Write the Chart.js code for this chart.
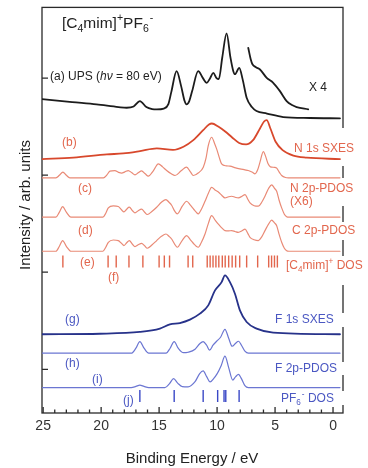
<!DOCTYPE html>
<html><head><meta charset="utf-8">
<script src="https://cdn.jsdelivr.net/npm/chart.js@4/dist/chart.umd.min.js"></script>
<style>html,body{margin:0;padding:0;background:#fff;}canvas{display:block;}</style>
</head><body>
<canvas id="c" width="368" height="468"></canvas>
<script>
// ---------- data (binding energy in eV, intensity in arb. units) ----------
const xTicks = [0, 5, 10, 15, 20, 25];
const yMarks = [43.7, 141.3, 238.7, 336];

// (a) UPS
const upsOffset = 295;
const upsE = [25.1, 22.5, 20.4, 18.5, 17.8, 17.2, 16.66, 16.1, 15.6, 15.2, 14.6, 14.2, 13.95, 13.49, 13.1, 12.8, 12.63, 12.4, 12.15, 11.63, 11.22, 10.9, 10.6, 10.33, 10.05, 9.85, 9.55, 9.18, 8.85, 8.6, 8.46, 8.09, 7.8, 7.45, 7.0, 6.6, 5.7, 4.3, 2.0, -0.6];
const upsI = [20, 17, 14.7, 12, 11.3, 12.5, 18, 12, 10, 9.7, 10.5, 15, 27, 48, 33, 18, 14.7, 18, 28, 48, 41, 36.3, 41, 46.3, 41, 40, 62, 86, 62, 48, 45, 51.3, 40, 21.3, 12, 8, 5.5, 2, 1, 0.7];
// UPS x4
const upsX4E = [7.31, 7.1, 6.95, 6.65, 6.3, 5.72, 5.16, 4.58, 4.0, 3.54, 3.14, 2.14];
const upsX4I = [71.3, 60, 55, 52, 49.7, 41.3, 36.3, 28, 18, 14, 12, 9.7];

// (b) N 1s SXES
const n1sOffset = 254.5;
const n1sE = [25.1, 22.4, 19.5, 18.1, 16.65, 15.2, 13.8, 12.9, 12.05, 11.2, 10.7, 10.45, 9.9, 9.3, 8.7, 8.1, 7.5, 6.9, 6.3, 5.95, 5.72, 5.4, 4.95, 4.35, 3.42, 2.27, -0.6];
const n1sI = [0.3, 1.7, 5, 6, 8.3, 11, 9.5, 12.7, 19.3, 29.3, 35, 36, 33, 28, 22, 16.5, 15, 19.3, 31, 38, 39.3, 31, 17.7, 9.3, 3.7, 1.7, 0.3];

// upper thin red curve
const nTopOffset = 236;
const nTopE = [25.1, 23.9, 23.6, 23.3, 23.0, 22.7, 19.8, 19.5, 19.24, 18.81, 18.5, 18.23, 17.95, 17.66, 17.35, 17.08, 16.8, 16.51, 16.2, 15.93, 15.5, 15.07, 14.7, 14.35, 13.95, 13.63, 13.1, 12.63, 12.3, 12.05, 11.6, 11.19, 10.95, 10.76, 10.47, 10.2, 10.04, 9.8, 9.61, 9.2, 8.89, 8.4, 8.03, 7.6, 7.31, 6.95, 6.73, 6.5, 6.3, 6.01, 5.8, 5.6, 5.4, 5.05, 4.86, 4.6, 4.43, 4.1, 3.85, -0.6];
const nTopI = [0, 0, 2.5, 5.7, 2.5, 0, 0, 3, 6.7, 7.3, 5.5, 4.7, 6, 7.3, 5, 3, 5, 7, 4, 1.7, 7, 14, 11, 7.3, 4, 2.3, 7, 10.7, 6, 2.3, 5, 10.7, 20, 32.3, 40.7, 34, 29, 20, 14, 12, 11.7, 10, 9, 8, 7.3, 5.5, 4, 8, 15.7, 26.3, 21, 14, 11, 10.5, 9.7, 5, 2.3, 0.3, 0, 0];

// (c) N 2p-PDOS (x6)
const n2pOffset = 196.5;
const n2pE = [25.1, 23.9, 23.6, 23.32, 23.0, 22.6, 19.85, 19.6, 19.38, 18.95, 18.52, 18.25, 18.03, 17.8, 17.57, 17.3, 17.08, 16.8, 16.51, 16.25, 16.02, 15.6, 15.21, 14.8, 14.41, 14.15, 13.92, 13.65, 13.43, 13.0, 12.63, 12.3, 12.0, 11.8, 11.62, 11.35, 11.04, 10.75, 10.47, 10.15, 9.89, 9.6, 9.32, 9.0, 8.74, 8.45, 8.17, 7.85, 7.59, 7.35, 7.16, 6.8, 6.44, 6.15, 5.87, 5.55, 5.29, 5.05, 4.86, 4.65, 4.43, 4.2, 4.0, 3.8, -0.6];
const n2pI = [0, 0, 5, 10.5, 5, 0, 0, 4, 9.3, 11.3, 10.7, 7.5, 5.3, 8, 10, 6.5, 4.3, 6.5, 8, 5, 2.7, 6, 10, 15, 17.7, 15, 12, 6, 3.3, 11, 16, 12, 7.7, 5, 3.3, 8, 16, 24, 30, 27, 25.3, 22, 19.3, 20.5, 21, 20, 19.3, 21, 22.7, 18, 14.3, 11.5, 11, 15, 21, 29, 32.5, 29, 26, 17, 9.3, 3, 0.5, 0, 0];

// (d) C 2p-PDOS
const c2pOffset = 162.3;
const c2pE = [25.1, 23.9, 23.6, 23.32, 23.0, 22.6, 19.85, 19.6, 19.38, 18.95, 18.52, 18.25, 18.03, 17.8, 17.57, 17.3, 17.08, 16.8, 16.51, 16.25, 16.02, 15.6, 15.21, 14.8, 14.41, 14.15, 13.92, 13.65, 13.43, 13.0, 12.63, 12.3, 12.0, 11.8, 11.62, 11.35, 11.04, 10.75, 10.47, 10.15, 9.89, 9.6, 9.32, 9.0, 8.74, 8.45, 8.17, 7.85, 7.59, 7.35, 7.16, 6.8, 6.44, 6.15, 5.87, 5.55, 5.29, 5.05, 4.86, 4.65, 4.43, 4.2, 4.0, 3.8, -0.6];
const c2pI = [0, 0, 5, 10.7, 5, 0, 0, 4, 9, 11.3, 10.7, 8, 5.7, 8.5, 10.7, 7, 4.7, 6.5, 8, 5.5, 3, 6.5, 10.7, 15, 17.3, 15, 12.3, 7, 4, 11, 15.7, 11.5, 7.3, 5, 4, 9, 17.3, 28, 35.7, 31, 27.3, 23.5, 20.7, 20.5, 20.7, 19.8, 19, 20.5, 22.3, 18, 14, 11.5, 10.7, 14.5, 20.7, 27.5, 31.3, 28.5, 25.7, 17, 9, 3, 0.5, 0, 0];

// (e) [C4mim]+ DOS sticks
const cationStickY = 152;
const cationSticks = [23.3, 19.4, 18.7, 17.6, 16.4, 15.0, 14.55, 14.1, 12.5, 12.1, 10.85, 10.6, 10.35, 10.1, 9.85, 9.55, 9.3, 9.0, 8.7, 8.4, 8.05, 7.45, 6.5, 5.55, 5.3, 5.05, 4.8];

// (g) F 1s SXES
const f1sOffset = 79;
const f1sE = [25.1, 20.1, 16.66, 14.93, 14.07, 13.21, 12.34, 11.48, 10.76, 10.18, 9.61, 9.32, 8.89, 8.46, 8.03, 7.45, 6.59, 5.16, -0.6];
const f1sI = [0, 0.5, 2.3, 5.7, 10, 11.3, 14.7, 20.7, 29, 44, 52.3, 59, 52.3, 40.7, 24, 12.3, 5.7, 1.7, 0];

// upper thin blue curve
const fTopOffset = 60;
const fTopE = [25.1, 17.4, 17.0, 16.66, 16.3, 15.9, 14.4, 14.05, 13.7, 13.35, 12.9, 12.5, 11.9, 11.5, 11.2, 10.9, 10.65, 10.35, 10.04, 9.7, 9.32, 9.0, 8.7, 8.4, 8.15, 7.9, 7.6, 7.3, -0.6];
const fTopI = [0, 0, 5, 11.7, 5, 0, 0, 5, 11.7, 5, 0.5, 1, 4, 9.5, 11.7, 8, 3, 8, 12, 16, 24, 15, 7, 10, 12, 8, 2, 0, 0];

// (h)/(i) F 2p-PDOS
const f2pOffset = 25.5;
const f2pE = [25.1, 17.4, 17.0, 16.66, 16.3, 15.9, 14.5, 14.1, 13.75, 13.4, 13.0, 12.5, 11.9, 11.5, 11.2, 10.9, 10.6, 10.3, 9.99, 9.65, 9.32, 9.0, 8.65, 8.4, 8.15, 7.9, 7.6, 7.3, -0.6];
const f2pI = [0, 0, 1.2, 2.5, 1.2, 0, 0, 4, 9, 4.5, 1, 0.8, 6, 14, 16.7, 11, 5.7, 9, 14, 22, 31.5, 20, 7.5, 11, 13.3, 9, 2, 0, 0];

// (j) PF6- DOS sticks
const anionStickY = 17;
const anionSticks = [16.66, 13.7, 11.2, 9.95, 9.4, 9.25, 8.1];

// ---------- styles ----------
const FONT = '"Liberation Sans", Arial, Helvetica, sans-serif';
const RED_TXT = '#e2664d', BLUE_TXT = '#4a57c2';

function curve(E, I, off, color, width) {
  return { data: E.map((e, i) => ({ x: e, y: I[i] + off })), borderColor: color, borderWidth: width,
           pointRadius: 0, fill: false, cubicInterpolationMode: 'monotone' };
}
function sticks(E, yc, color) {
  return { data: E.map(e => ({ x: e, y: yc })), showLine: false, pointStyle: 'line', pointRotation: 90,
           pointRadius: 6, pointBorderColor: color, pointBorderWidth: 1.4, pointBackgroundColor: color };
}

const datasets = [
  curve(upsE, upsI, upsOffset, '#1c1c1c', 1.8),
  curve(upsX4E, upsX4I, upsOffset, '#1c1c1c', 1.8),
  curve(n1sE, n1sI, n1sOffset, '#d8482c', 1.8),
  curve(nTopE, nTopI, nTopOffset, '#e98a76', 1.2),
  curve(n2pE, n2pI, n2pOffset, '#e98a76', 1.2),
  curve(c2pE, c2pI, c2pOffset, '#e98a76', 1.2),
  sticks(cationSticks, cationStickY, '#e2664d'),
  curve(f1sE, f1sI, f1sOffset, '#27328a', 1.8),
  curve(fTopE, fTopI, fTopOffset, '#6b76d2', 1.2),
  curve(f2pE, f2pI, f2pOffset, '#6b76d2', 1.2),
  sticks(anionSticks, anionStickY, '#3a48c6')
];

function rich(ctx, x, y, parts, size, color) {
  let cx = x;
  ctx.textBaseline = 'middle'; ctx.textAlign = 'left'; ctx.fillStyle = color;
  parts.forEach(p => {
    const q = typeof p === 'string' ? { t: p } : p;
    let fs = size, dy = 0;
    if (q.sub) { fs = size * 0.68; dy = size * 0.32; }
    if (q.sup) { fs = size * 0.68; dy = -size * 0.38; }
    ctx.font = (q.it ? 'italic ' : '') + fs + 'px ' + FONT;
    ctx.fillText(q.t, cx + (q.dx || 0), y + dy);
    cx += ctx.measureText(q.t).width + (q.dx || 0);
  });
}

const spineGaps = [[128, 166], [178, 206], [222, 240], [256, 285], [313, 327], [362, 375], [391, 405]];

const decor = {
  id: 'decor',
  beforeDatasetsDraw(chart) {
    const { ctx, chartArea: a, scales: { x, y } } = chart;
    ctx.save();
    ctx.strokeStyle = '#2a2a2a'; ctx.lineWidth = 1.3;
    ctx.strokeRect(a.left, a.top, a.right - a.left, a.bottom - a.top);
    ctx.fillStyle = '#fff';
    spineGaps.forEach(([y1, y2]) => ctx.fillRect(a.right - 2, y1, 5, y2 - y1));
    ctx.beginPath();
    for (let v = 0; v <= 25; v++) {
      const px = x.getPixelForValue(v);
      const L = v % 5 === 0 ? 6 : 3.5;
      ctx.moveTo(px, a.bottom); ctx.lineTo(px, a.bottom - L);
    }
    yMarks.forEach(v => { const py = y.getPixelForValue(v); ctx.moveTo(a.left, py); ctx.lineTo(a.left + 6, py); });
    ctx.stroke();
    ctx.restore();
  },
  afterDatasetsDraw(chart) {
    const { ctx } = chart;
    ctx.save();
    rich(ctx, 62, 24, ['[C', { t: '4', sub: 1 }, 'mim]', { t: '+', sup: 1 }, 'PF', { t: '6', sub: 1 }, { t: '-', sup: 1, dx: 1 }], 15.5, '#222');
    rich(ctx, 50, 77, ['(a) UPS (', { t: 'h\u03BD', it: 1 }, ' = 80 eV)'], 12, '#222');
    rich(ctx, 309, 88, ['X 4'], 12, '#222');
    // red labels
    rich(ctx, 62, 143, ['(b)'], 12, RED_TXT);
    rich(ctx, 294, 149, ['N 1s SXES'], 12, RED_TXT);
    rich(ctx, 78, 189, ['(c)'], 12, RED_TXT);
    rich(ctx, 290, 189, ['N 2p-PDOS'], 12, RED_TXT);
    rich(ctx, 290, 202, ['(X6)'], 12, RED_TXT);
    rich(ctx, 78, 231, ['(d)'], 12, RED_TXT);
    rich(ctx, 292, 231, ['C 2p-PDOS'], 12, RED_TXT);
    rich(ctx, 80, 263, ['(e)'], 12, RED_TXT);
    rich(ctx, 286, 266, ['[C', { t: '4', sub: 1 }, 'mim]', { t: '+', sup: 1 }, ' DOS'], 12, RED_TXT);
    rich(ctx, 108, 278, ['(f)'], 12, RED_TXT);
    // blue labels
    rich(ctx, 65, 320, ['(g)'], 12, BLUE_TXT);
    rich(ctx, 275, 320, ['F 1s SXES'], 12, BLUE_TXT);
    rich(ctx, 65, 364, ['(h)'], 12, BLUE_TXT);
    rich(ctx, 275, 369, ['F 2p-PDOS'], 12, BLUE_TXT);
    rich(ctx, 92, 380, ['(i)'], 12, BLUE_TXT);
    rich(ctx, 123, 401, ['(j)'], 12, BLUE_TXT);
    rich(ctx, 281, 399, ['PF', { t: '6', sub: 1 }, { t: '-', sup: 1, dx: 1 }, ' DOS'], 12, BLUE_TXT);
    // axis titles
    ctx.fillStyle = '#222';
    ctx.font = '15px ' + FONT;
    ctx.textAlign = 'center'; ctx.textBaseline = 'middle';
    ctx.fillText('Binding Energy / eV', 192, 459);
    ctx.translate(26, 205); ctx.rotate(-Math.PI / 2);
    ctx.fillText('Intensity / arb. units', 0, 0);
    ctx.restore();
  }
};

new Chart(document.getElementById('c'), {
  type: 'line',
  data: { datasets },
  options: {
    responsive: false, animation: false, devicePixelRatio: 1,
    layout: { padding: { left: 42, right: 25, top: 6, bottom: 0 } },
    plugins: { legend: { display: false }, tooltip: { enabled: false } },
    elements: { line: { borderCapStyle: 'round', borderJoinStyle: 'round' } },
    scales: {
      x: {
        type: 'linear', reverse: true, min: -0.86, max: 25.1,
        grid: { display: false, drawTicks: false }, border: { display: false },
        afterBuildTicks(s) { s.ticks = xTicks.map(v => ({ value: v })); },
        afterFit(s) { s.height = 55; },
        ticks: { font: { size: 14, family: FONT }, color: '#333', padding: 5, maxRotation: 0, autoSkip: false,
                 callback: v => String(v) }
      },
      y: { type: 'linear', display: false, min: 0, max: 407 }
    }
  },
  plugins: [decor]
});
</script>
</body></html>
